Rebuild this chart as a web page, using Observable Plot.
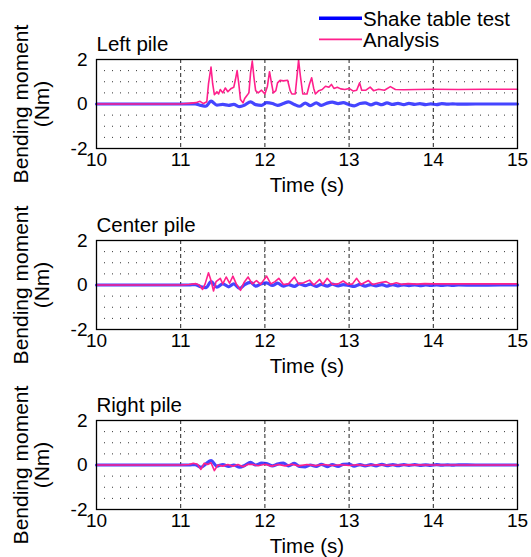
<!DOCTYPE html>
<html><head><meta charset="utf-8">
<script src="https://cdn.jsdelivr.net/npm/d3@7"></script>
<script src="https://cdn.jsdelivr.net/npm/@observablehq/plot@0.6"></script>
<style>
html,body{margin:0;padding:0;background:#fff;}
#root{position:relative;width:531px;height:557px;overflow:hidden;font-family:"Liberation Sans",Arial,sans-serif;}
#root svg{position:absolute;left:0;}
</style></head><body><div id="root"></div>
<script>
// ---- data ----
const panelTitles = ["Left pile", "Center pile", "Right pile"];
const seriesNames = ["Shake table test", "Analysis"];
const xTicks = [10, 11, 12, 13, 14, 15];
const yTicks = [-2, 0, 2];
const minorY = [-1.5, -1, -0.5, 0.5, 1, 1.5];
const majorX = [11, 12, 13, 14];
const xLabel = "Time (s)";
const yLabel = "Bending moment\n(Nm)";

const testTime = [10, 11.0, 11.1, 11.17, 11.24, 11.3, 11.36, 11.43, 11.5, 11.57, 11.63, 11.7, 11.76, 11.83, 11.89, 11.96, 12.02, 12.09, 12.15, 12.22, 12.28, 12.35, 12.41, 12.48, 12.54, 12.61, 12.67, 12.74, 12.8, 12.87, 12.93, 13.0, 13.06, 13.13, 13.19, 13.26, 13.32, 13.39, 13.45, 13.52, 13.58, 13.65, 13.71, 13.78, 13.84, 13.91, 13.97, 14.04, 14.1, 14.17, 14.23, 14.3, 14.5, 14.8, 15.0];
const leftTest = [0,0,0,0.01,-0.06,-0.1,0.13,-0.05,-0.02,-0.06, -0.02,-0.12,-0.05,0.1,-0.03,-0.06,0.06,0.02,-0.06,0.02, 0.1,-0.02,-0.1,0.04,-0.07,0.05,-0.06,0.04,0.08,0.02, 0.06,-0.03,-0.08,0.02,0.05,-0.04,0.04,-0.03,0.05,-0.02, 0.03,-0.03,0.03,-0.02,0.02,-0.03,0.01,-0.03,0.02,-0.01, 0.01,-0.01,0,0,0];
const centerTest = [0,0,0,0.02,-0.08,-0.12,0.15,-0.1,0.05,-0.08, 0.05,-0.15,0.02,0.12,-0.05,0.06,0.1,-0.02,0.08,-0.05, 0.02,-0.06,0.05,-0.03,0.04,-0.06,0.03,-0.05,0.04,-0.04, 0.02,-0.02,-0.06,0.03,-0.05,0.02,-0.04,0.02,-0.05,0.02, -0.04,0.01,-0.03,0.01,-0.03,0,-0.02,0.01,-0.02,0, -0.02,0,-0.01,0,0];
const rightTest = [0,0,0,0.02,-0.1,0.05,0.2,-0.05,0.02,-0.06, 0,-0.1,-0.02,0.12,0,0.08,0.06,-0.04,0.04,0.08, -0.04,0.07,-0.06,-0.08,0,-0.06,0.03,-0.07,0.02,-0.06, 0.03,0.04,-0.05,0.02,-0.04,0.02,-0.04,0.03,-0.03,0.02, -0.03,0.02,-0.02,0.02,-0.02,0.01,-0.02,0.02,-0.01,0.01, -0.01,0.01,0,0,0];

const leftAnalysis = [[10,0],[11.0,0],[11.1,0.03],[11.18,0.06],[11.23,0.12],[11.27,0.02],[11.31,0.1],[11.33,0.9],[11.36,1.66],[11.38,0.9],[11.4,0.42],[11.43,0.55],[11.45,0.45],[11.47,0.65],[11.5,0.5],[11.53,0.72],[11.56,0.55],[11.6,0.7],[11.63,0.75],[11.65,1.1],[11.67,1.5],[11.69,0.9],[11.71,0.2],[11.74,0.05],[11.76,0.25],[11.78,0.35],[11.81,0.5],[11.83,1.4],[11.85,1.93],[11.87,1.2],[11.89,0.6],[11.92,0.5],[11.96,0.62],[12.0,0.45],[12.03,0.8],[12.055,1.45],[12.08,0.9],[12.1,0.5],[12.13,0.6],[12.15,0.95],[12.18,1.06],[12.22,1.04],[12.27,1.07],[12.3,0.6],[12.32,0.45],[12.36,0.45],[12.38,1.2],[12.4,1.97],[12.42,1.3],[12.45,0.45],[12.5,0.45],[12.53,0.9],[12.555,1.18],[12.58,0.7],[12.6,0.45],[12.64,0.6],[12.68,0.65],[12.72,0.8],[12.76,0.75],[12.79,0.88],[12.82,0.7],[12.86,0.75],[12.9,0.68],[12.95,0.65],[13.0,0.7],[13.05,0.58],[13.09,0.62],[13.125,0.95],[13.15,0.62],[13.2,0.62],[13.25,0.76],[13.29,0.6],[13.35,0.66],[13.42,0.62],[13.49,0.78],[13.55,0.65],[13.65,0.64],[13.8,0.65],[14.0,0.66],[14.3,0.65],[14.6,0.66],[15,0.66]];
const centerAnalysis = [[10,0],[11.0,0],[11.1,0.02],[11.18,0.06],[11.22,0.0],[11.26,-0.2],[11.29,0.05],[11.33,0.55],[11.36,0.2],[11.39,-0.27],[11.42,0.15],[11.47,0.3],[11.5,0.05],[11.54,0.36],[11.58,0.08],[11.62,0.4],[11.66,0.05],[11.71,-0.24],[11.75,0.1],[11.8,0.36],[11.85,0.05],[11.9,0.2],[11.95,0.03],[12.02,0.4],[12.07,0.05],[12.12,0.15],[12.165,0.3],[12.22,0.02],[12.28,0.05],[12.35,0.36],[12.4,0.05],[12.46,0.1],[12.53,0.22],[12.58,0.0],[12.65,0.25],[12.69,0.03],[12.74,0.3],[12.8,0.03],[12.87,0.05],[12.93,0.18],[12.99,0.02],[13.04,0.05],[13.09,0.3],[13.14,0.02],[13.23,0.2],[13.28,0.02],[13.36,0.1],[13.44,0.15],[13.5,0.03],[13.56,0.1],[13.62,0.03],[13.7,0.06],[13.8,0.04],[13.9,0.06],[14.0,0.05],[14.3,0.05],[14.6,0.05],[15,0.05]];
const rightAnalysis = [[10,0],[11.0,0],[11.1,0.02],[11.15,0.08],[11.2,0.03],[11.24,-0.2],[11.28,0.08],[11.32,0.02],[11.36,0.1],[11.4,-0.25],[11.44,0.0],[11.5,-0.05],[11.56,0.02],[11.62,-0.06],[11.68,0.02],[11.74,-0.08],[11.8,0.03],[11.86,0.02],[11.92,-0.03],[12.0,0.03],[12.08,-0.05],[12.16,0.02],[12.24,-0.04],[12.32,0.03],[12.4,-0.04],[12.5,0.02],[12.6,-0.03],[12.7,0.02],[12.8,-0.02],[12.9,0.01],[13.0,-0.02],[13.1,0.01],[13.2,-0.02],[13.35,0.01],[13.5,-0.01],[13.7,0.01],[14,0],[15,0]];

// ---- drawing ----
const BLUE = "#2424ff", PINK = "#ff1f8c";
const FONT = '"Liberation Sans", Arial, sans-serif';
const root = document.getElementById("root");
const tests = [leftTest, centerTest, rightTest];
const analyses = [leftAnalysis, centerAnalysis, rightAnalysis];
const tops = [0, 180.5, 361];

tests.forEach((vals, i) => {
  const test = testTime.map((t, k) => ({t, v: vals[k]}));
  const ana = analyses[i].map(([t, v]) => ({t, v}));
  const svg = Plot.plot({
    width: 531, height: 200,
    marginTop: 59, marginBottom: 52, marginLeft: 96, marginRight: 14,
    x: {domain: [10, 15]},
    y: {domain: [-2, 2]},
    style: {background: "transparent", fontFamily: FONT, fontSize: "19px", color: "#000", overflow: "visible"},
    marks: [
      Plot.ruleY(minorY, {stroke: "#000", strokeWidth: 1, strokeDasharray: "1,7", strokeOpacity: 0.8}),
      Plot.ruleX(majorX, {stroke: "#222", strokeWidth: 1, strokeDasharray: "4,3"}),
      Plot.line(test, {x: "t", y: "v", stroke: BLUE, strokeWidth: 3.2, strokeOpacity: 0.85, curve: "monotone-x"}),
      Plot.line(ana, {x: "t", y: "v", stroke: PINK, strokeWidth: 1.6}),
      Plot.frame({stroke: "#000", strokeWidth: 1.3}),
      Plot.axisX(xTicks, {tickSize: 0, tickPadding: 4, fontSize: 19, label: null, tickFormat: d => String(d)}),
      Plot.axisY(yTicks, {tickSize: 0, tickPadding: 9, fontSize: 19, label: null, tickFormat: d => String(d)}),
      Plot.text([xLabel], {frameAnchor: "bottom", lineAnchor: "middle", dy: 37, fontSize: 20.5}),
      Plot.text([yLabel], {frameAnchor: "left", textAnchor: "middle", lineAnchor: "middle", dx: -65, rotate: -90, fontSize: 21, lineHeight: 1.02}),
      Plot.text([panelTitles[i]], {frameAnchor: "top-left", textAnchor: "start", lineAnchor: "middle", dy: -15, fontSize: 20.5})
    ]
  });
  svg.style.position = "absolute";
  svg.style.top = tops[i] + "px";
  svg.style.left = "0px";
  root.appendChild(svg);
});

// legend
const leg = d3.create("svg").attr("width", 531).attr("height", 56)
  .style("position", "absolute").style("top", "0px").style("left", "0px");
const legColors = ["#0000ff", PINK], legWidths = [3.5, 1.8];
seriesNames.forEach((name, i) => {
  const y = 18.3 + i * 21;
  leg.append("line").attr("x1", 319).attr("x2", 362).attr("y1", y).attr("y2", y)
    .attr("stroke", legColors[i]).attr("stroke-width", legWidths[i]);
  leg.append("text").attr("x", 363).attr("y", y + 7.6).attr("font-family", FONT)
    .attr("font-size", 20.5).attr("fill", "#000").text(name);
});
root.appendChild(leg.node());
</script>
</body></html>
